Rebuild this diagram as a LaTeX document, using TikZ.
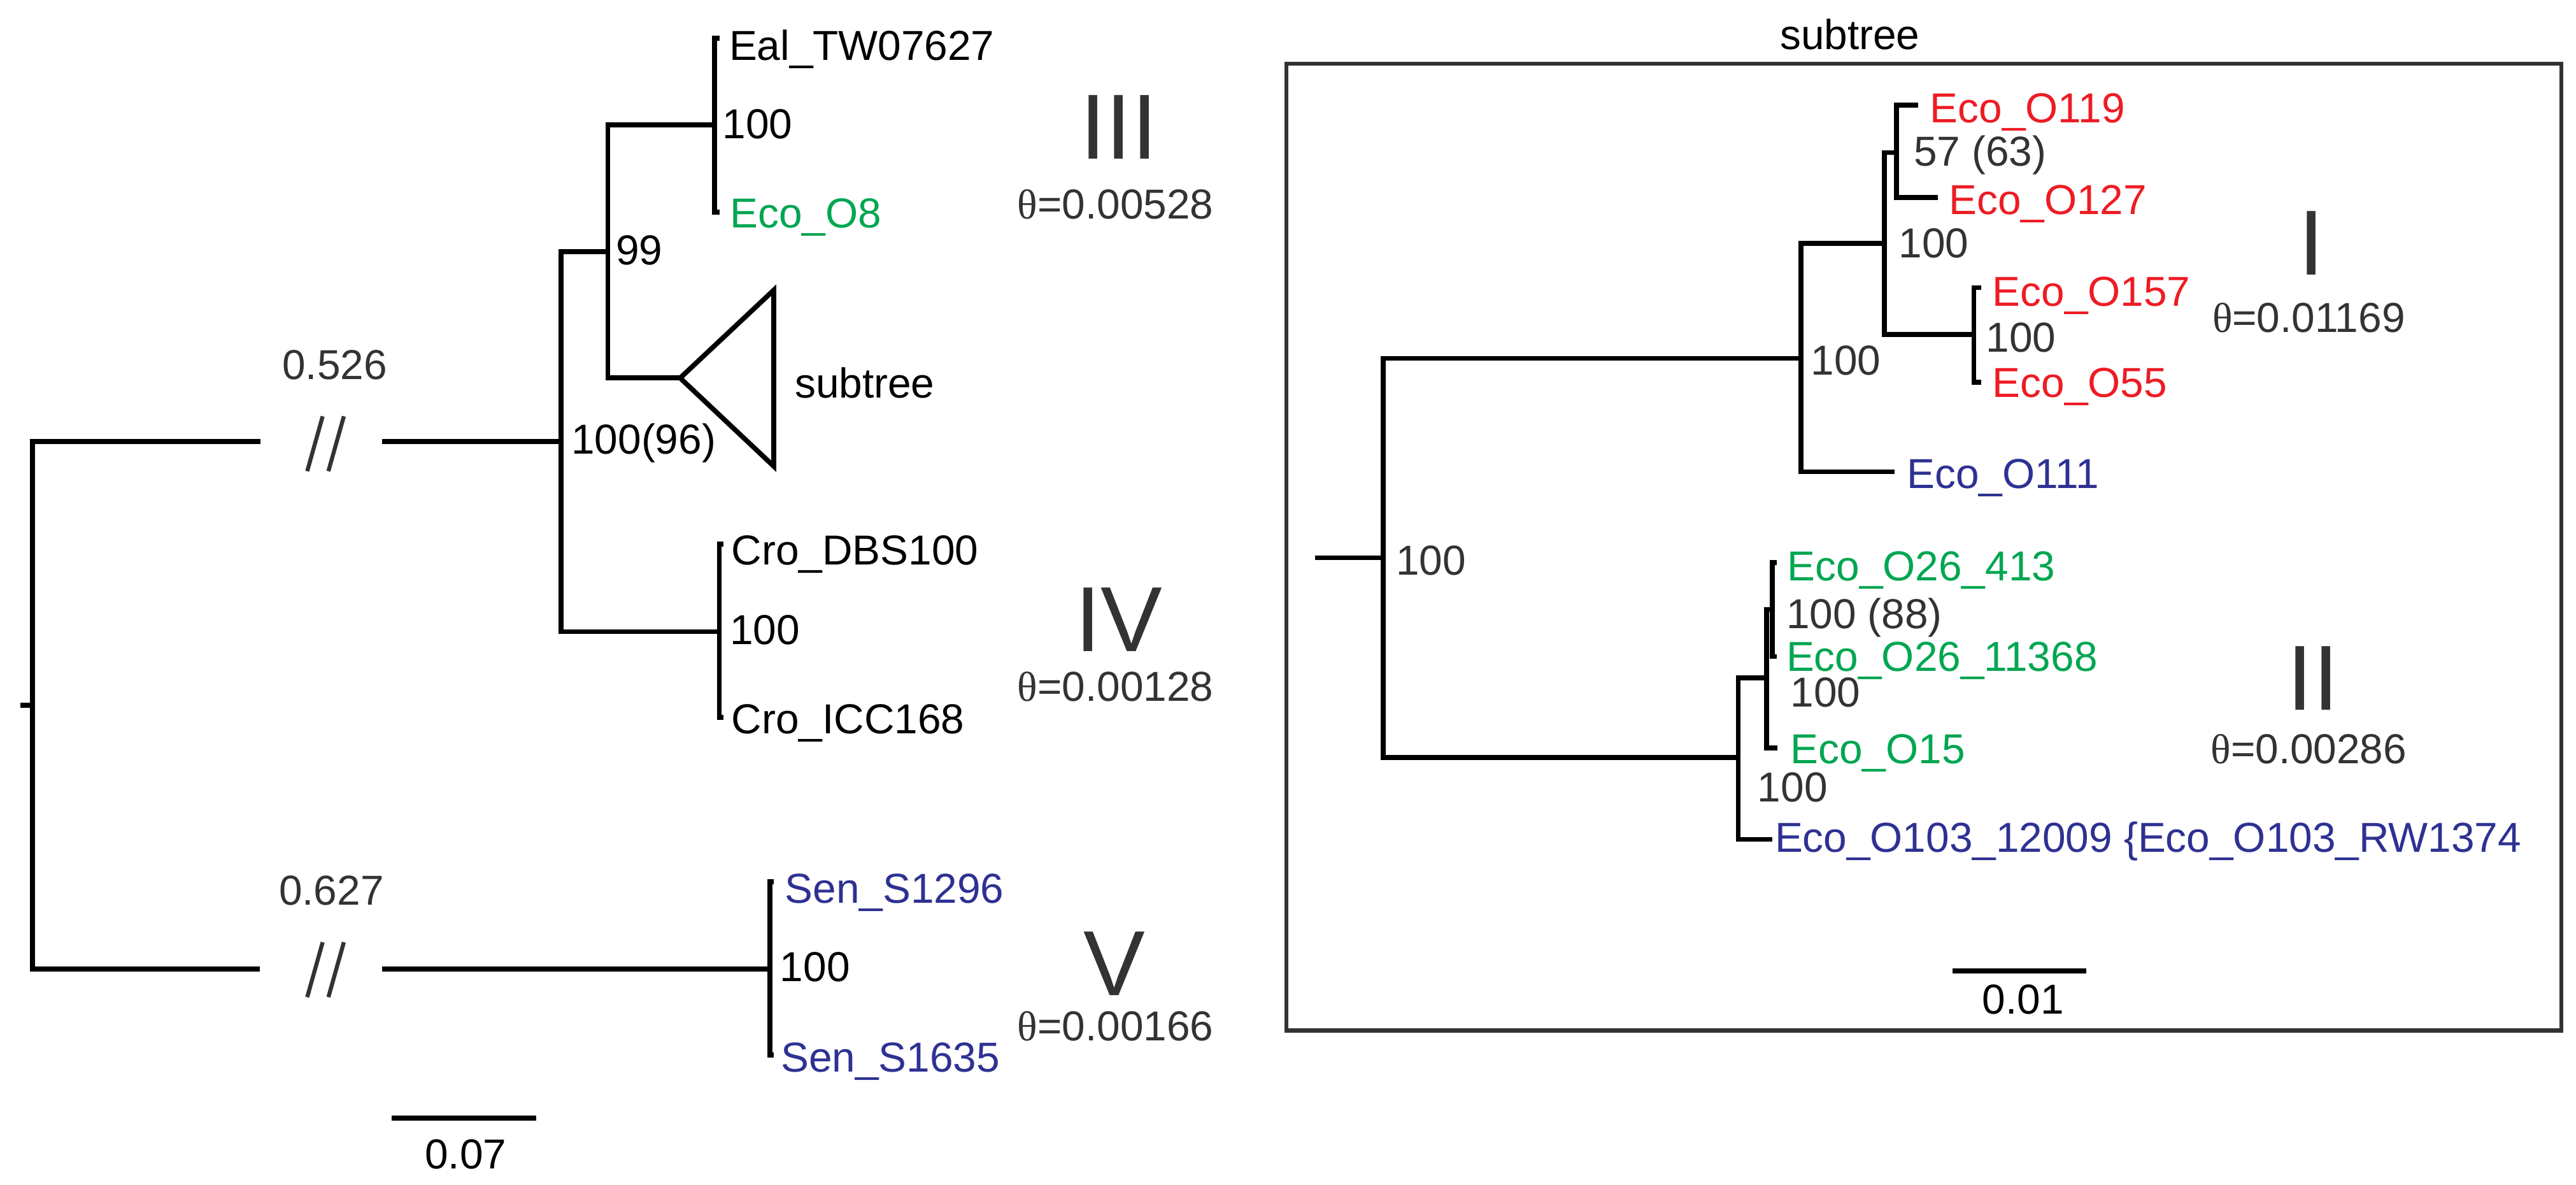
\documentclass[tikz,border=0pt]{standalone}
\usepackage{fontspec}
\setmainfont{Liberation Sans}
\newfontfamily\thetafont{Liberation Serif}
\usepackage{tikz}
\usepackage{xcolor}
\definecolor{ecoRed}{HTML}{ED1C24}
\definecolor{ecoGreen}{HTML}{00A651}
\definecolor{ecoBlue}{HTML}{2E3192}
\definecolor{txtGray}{HTML}{333333}
\newcommand\taxsize{\fontsize{14.5}{17}\selectfont}
\newcommand\cladesize{\fontsize{32}{36}\selectfont}
\tikzset{
    % tree styles
    branch/.style={line width=1.7pt,black},
    brk/.style={line width=1.4pt,txtGray},
    panel/.style={draw=txtGray,line width=1.4pt},
    % text styles
    taxon/.style={anchor=base west,inner sep=0pt,font=\taxsize},
    boot/.style={anchor=base west,inner sep=0pt,font=\taxsize},
    scalelbl/.style={anchor=base,inner sep=0pt,font=\taxsize},
    clade/.style={anchor=base,inner sep=0pt,font=\cladesize,text=txtGray},
    theta/.style={anchor=base,inner sep=0pt,font=\taxsize,text=txtGray}
}

\begin{document}
\begin{tikzpicture}[x=0.2mm,y=-0.2mm]
    \useasboundingbox (0,0) rectangle (1568,721);

    % Left tree: nodes
    \coordinate (rootStub) at (12.4,429);
    \coordinate (root) at (19.8,429);
    \coordinate (brkUpL) at (158.4,268.6);
    \coordinate (brkUpR) at (232.6,268.6);
    \coordinate (nA) at (341.4,268.6);
    \coordinate (nB) at (370,153);
    \coordinate (nC) at (435,76);
    \coordinate (tEal) at (438,23.3);
    \coordinate (tEco8) at (438,129);
    \coordinate (triApex) at (414,230);
    \coordinate (triTop) at (471,176.5);
    \coordinate (triBot) at (471,283.7);
    \coordinate (nD) at (437.8,384.3);
    \coordinate (tCroD) at (440.5,331);
    \coordinate (tCroI) at (440.5,436.5);
    \coordinate (brkLoL) at (158.2,589.5);
    \coordinate (brkLoR) at (232.4,589.5);
    \coordinate (nE) at (468.7,589.5);
    \coordinate (tSen1) at (471,536.5);
    \coordinate (tSen2) at (471,642);

    % Left tree: branches
    \draw[branch] (rootStub) -- (root);
    \draw[branch] (root) |- (brkUpL);
    \draw[branch] (brkUpR) -- (nA);
    \draw[branch] (root) |- (brkLoL);
    \draw[branch] (brkLoR) -- (nE);
    \draw[branch] (nA) |- (nB);
    \draw[branch] (nA) |- (nD);
    \draw[branch] (nB) |- (nC);
    \draw[branch] (nB) |- (triApex);
    \draw[branch] (nC) |- (tEal);
    \draw[branch] (nC) |- (tEco8);
    \draw[branch] (nD) |- (tCroD);
    \draw[branch] (nD) |- (tCroI);
    \draw[branch] (nE) |- (tSen1);
    \draw[branch] (nE) |- (tSen2);
    \draw[branch] (triApex) -- (triTop) -- (triBot) -- cycle;

    % Broken long branches
    \foreach \y in {270,590}
        \foreach \dx in {0,12.9}
            \draw[brk] (187+\dx,\y+16.7) -- (196.4+\dx,\y-16.7);

    % Left tree: labels
    \node[taxon] (lEal) at (443.5,36.7) {Eal\_TW07627};
    \node[taxon,text=ecoGreen] (lEco8) at (444,138.4) {Eco\_O8};
    \node[boot] (bC) at (439.5,84.2) {100};
    \node[boot] (bB) at (374.5,161) {99};
    \node[taxon] (lSub) at (483.5,242) {subtree};
    \node[boot] (bA) at (347.5,276.2) {100(96)};
    \node[taxon] (lCroD) at (445,343.6) {Cro\_DBS100};
    \node[taxon] (lCroI) at (445,446.5) {Cro\_ICC168};
    \node[boot] (bD) at (444,392) {100};
    \node[taxon,text=ecoBlue] (lSen1) at (477.5,549.4) {Sen\_S1296};
    \node[taxon,text=ecoBlue] (lSen2) at (475,652) {Sen\_S1635};
    \node[boot] (bE) at (474.5,597) {100};
    \node[boot,text=txtGray] (lenUp) at (171.5,231) {0.526};
    \node[boot,text=txtGray] (lenLo) at (169.5,550.7) {0.627};

    % Clades III, IV, V
    \node[clade] (cIII) at (681,96.9) {III};
    \node[theta] (thIII) at (679,133.2) {{\thetafont θ}=0.00528};
    \node[clade] (cIV) at (681,396.5) {IV};
    \node[theta] (thIV) at (679,426.4) {{\thetafont θ}=0.00128};
    \node[clade] (cV) at (678.5,605.7) {V};
    \node[theta] (thV) at (679,633.2) {{\thetafont θ}=0.00166};

    % Left scale bar
    \coordinate (scLa) at (238.3,680.2);
    \coordinate (scLb) at (326.3,680.2);
    \draw[branch] (scLa) -- (scLb);
    \node[scalelbl] (scLlbl) at (283.5,711.2) {0.07};

    % Right panel: subtree box
    \draw[panel] (783,38.8) rectangle (1559,627);
    \node[scalelbl] (boxTitle) at (1126,30) {subtree};

    % Right tree: nodes
    \coordinate (sStub) at (800.5,339.4);
    \coordinate (sRoot) at (842,339.4);
    \coordinate (nP) at (1096.3,218);
    \coordinate (nP1) at (1147,148);
    \coordinate (nP2) at (1154.5,92.8);
    \coordinate (nP3) at (1201.5,203.4);
    \coordinate (tO119) at (1167.6,63.9);
    \coordinate (tO127) at (1179.7,120.3);
    \coordinate (tO157) at (1206,175);
    \coordinate (tO55) at (1206,232.5);
    \coordinate (tO111) at (1153.4,287);
    \coordinate (nQ) at (1058,461);
    \coordinate (nQ1) at (1075.3,412.4);
    \coordinate (nQ2) at (1078.8,370.8);
    \coordinate (tO26a) at (1081.5,342.3);
    \coordinate (tO26b) at (1081.5,399.5);
    \coordinate (tO15) at (1082,455);
    \coordinate (tO103) at (1078.8,510.7);

    % Right tree: branches
    \draw[branch] (sStub) -- (sRoot);
    \draw[branch] (sRoot) |- (nP);
    \draw[branch] (sRoot) |- (nQ);
    \draw[branch] (nP) |- (nP1);
    \draw[branch] (nP) |- (tO111);
    \draw[branch] (nP1) |- (nP2);
    \draw[branch] (nP1) |- (nP3);
    \draw[branch] (nP2) |- (tO119);
    \draw[branch] (nP2) |- (tO127);
    \draw[branch] (nP3) |- (tO157);
    \draw[branch] (nP3) |- (tO55);
    \draw[branch] (nQ) |- (nQ1);
    \draw[branch] (nQ) |- (tO103);
    \draw[branch] (nQ1) |- (nQ2);
    \draw[branch] (nQ1) |- (tO15);
    \draw[branch] (nQ2) |- (tO26a);
    \draw[branch] (nQ2) |- (tO26b);

    % Right tree: labels
    \node[boot,text=txtGray] (bRoot) at (849.5,350) {100};
    \node[boot,text=txtGray] (bP) at (1102,228.3) {100};
    \node[boot,text=txtGray] (bP1) at (1155.5,156.9) {100};
    \node[boot,text=txtGray] (bP2) at (1164.5,101) {57 (63)};
    \node[boot,text=txtGray] (bP3) at (1208.5,214.2) {100};
    \node[taxon,text=ecoRed] (lO119) at (1174.5,74.7) {Eco\_O119};
    \node[taxon,text=ecoRed] (lO127) at (1186,130.4) {Eco\_O127};
    \node[taxon,text=ecoRed] (lO157) at (1212.5,186.3) {Eco\_O157};
    \node[taxon,text=ecoRed] (lO55) at (1212.5,241.5) {Eco\_O55};
    \node[taxon,text=ecoBlue] (lO111) at (1160.5,297) {Eco\_O111};
    \node[taxon,text=ecoGreen] (lO26a) at (1087.7,353.5) {Eco\_O26\_413};
    \node[boot,text=txtGray] (bQ2) at (1087,382.4) {100 (88)};
    \node[taxon,text=ecoGreen] (lO26b) at (1087,408.3) {Eco\_O26\_11368};
    \node[boot,text=txtGray] (bQ1) at (1089.5,430) {100};
    \node[taxon,text=ecoGreen] (lO15) at (1089.5,464.4) {Eco\_O15};
    \node[boot,text=txtGray] (bQ) at (1069.5,487.7) {100};
    \node[taxon,text=ecoBlue] (lO103) at (1080,518.4) {Eco\_O103\_12009 \{Eco\_O103\_RW1374};

    % Clades I and II
    \node[clade] (cI) at (1407,167.2) {I};
    \node[theta] (thI) at (1405.3,202) {{\thetafont θ}=0.01169};
    \node[clade] (cII) at (1408,432) {II};
    \node[theta] (thII) at (1405.3,464.7) {{\thetafont θ}=0.00286};

    % Right scale bar
    \coordinate (scRa) at (1188.4,590.8);
    \coordinate (scRb) at (1269.8,590.8);
    \draw[branch] (scRa) -- (scRb);
    \node[scalelbl] (scRlbl) at (1231.5,617) {0.01};
\end{tikzpicture}
\end{document}
